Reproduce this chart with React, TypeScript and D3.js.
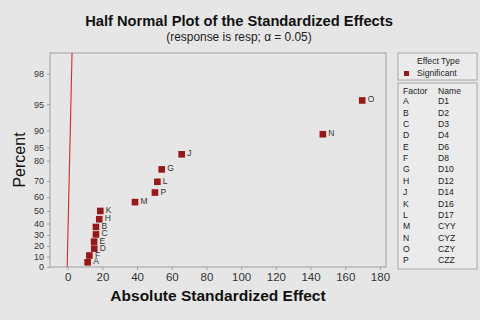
import { useEffect, useRef } from "react";
import * as d3 from "d3";

// effects, one per factor (A..P, no I)
const factors = ["A", "B", "C", "D", "E", "F", "G", "H", "J", "K", "L", "M", "N", "O", "P"];
const names = ["D1", "D2", "D3", "D4", "D6", "D8", "D10", "D12", "D14", "D16", "D17", "CYY", "CYZ", "CZY", "CZZ"];
const effects = [11.5, 16.3, 16.3, 15.3, 15.2, 12.5, 54.2, 18.2, 65.7, 18.8, 51.7, 38.8, 147.1, 169.8, 50.3];
const percents = [4.5, 37.0, 30.5, 17.5, 24.0, 11.0, 76.0, 43.5, 82.5, 50.0, 69.5, 56.5, 89.0, 95.5, 63.0];

const xTicks = [0, 20, 40, 60, 80, 100, 120, 140, 160, 180];
const yTicks = [0, 10, 20, 30, 40, 50, 60, 70, 80, 85, 90, 95, 98];

// reference line (effect, percent) end points
const refEffects = [-0.3, 2.5];
const refPercents = [0, 99];

const FONT = "'Liberation Sans', Arial, sans-serif";
const MARK = "#9b1717";

// inverse normal cdf (Acklam)
function invNorm(p: number) {
  const a = [-39.69683028665376, 220.9460984245205, -275.9285104469687, 138.357751867269, -30.66479806614716, 2.506628277459239];
  const b = [-54.47609879822406, 161.5858368580409, -155.6989798598866, 66.80131188771972, -13.28068155288572];
  const c = [-0.007784894002430293, -0.3223964580411365, -2.400758277161838, -2.549732539343734, 4.374664141464968, 2.938163982698783];
  const d = [0.007784695709041462, 0.3224671290700398, 2.445134137142996, 3.754408661907416];
  const plow = 0.02425;
  if (p < plow) {
    const q = Math.sqrt(-2 * Math.log(p));
    return (((((c[0] * q + c[1]) * q + c[2]) * q + c[3]) * q + c[4]) * q + c[5]) /
      ((((d[0] * q + d[1]) * q + d[2]) * q + d[3]) * q + 1);
  }
  if (p > 1 - plow) {
    const q = Math.sqrt(-2 * Math.log(1 - p));
    return -(((((c[0] * q + c[1]) * q + c[2]) * q + c[3]) * q + c[4]) * q + c[5]) /
      ((((d[0] * q + d[1]) * q + d[2]) * q + d[3]) * q + 1);
  }
  const q = p - 0.5;
  const r = q * q;
  return (((((a[0] * r + a[1]) * r + a[2]) * r + a[3]) * r + a[4]) * r + a[5]) * q /
    (((((b[0] * r + b[1]) * r + b[2]) * r + b[3]) * r + b[4]) * r + 1);
}

// half normal: percent -> z
const halfZ = (pct: number) => invNorm(0.5 + pct / 200);

export default function App() {
  const ref = useRef<SVGSVGElement>(null);

  useEffect(() => {
    const svg = d3.select(ref.current);
    svg.selectAll("*").remove();

    const left = 50, right = 386, top = 53, bottom = 267;

    const x = d3.scaleLinear().domain([-10.2, 183.5]).range([left, right]);
    const y = d3.scaleLinear().domain([0, halfZ(99)]).range([bottom, top]);

    svg.append("rect").attr("width", 480).attr("height", 320).attr("fill", "#e6e6e6");

    // titles
    svg.append("text").attr("x", 239).attr("y", 26).attr("text-anchor", "middle")
      .style("font-family", FONT).style("font-size", "14.7px").style("font-weight", "bold").attr("fill", "#111")
      .text("Half Normal Plot of the Standardized Effects");
    svg.append("text").attr("x", 239).attr("y", 40.5).attr("text-anchor", "middle")
      .style("font-family", FONT).style("font-size", "11.9px").attr("fill", "#222")
      .text("(response is resp; \u03b1 = 0.05)");

    // plot frame
    svg.append("rect").attr("x", left).attr("y", top).attr("width", right - left).attr("height", bottom - top)
      .attr("fill", "#e6e6e6").attr("stroke", "#a0a0a0");

    const gx = svg.append("g").attr("transform", "translate(0," + bottom + ")")
      .call(d3.axisBottom(x).tickValues(xTicks).tickSize(3).tickSizeOuter(0));
    gx.select(".domain").remove();
    gx.selectAll("line").attr("stroke", "#a0a0a0");
    gx.selectAll("text").style("font-family", FONT).style("font-size", "11.5px").attr("fill", "#333").attr("y", 6);

    const gy = svg.append("g").attr("transform", "translate(" + left + ",0)")
      .call(d3.axisLeft(y).tickValues(yTicks.map(halfZ)).tickFormat((d, i) => String(yTicks[i])).tickSize(3).tickSizeOuter(0));
    gy.select(".domain").remove();
    gy.selectAll("line").attr("stroke", "#a0a0a0");
    gy.selectAll("text").style("font-family", FONT).style("font-size", "9px").attr("fill", "#333").attr("x", -6);

    // axis labels
    svg.append("text").attr("x", 218).attr("y", 301).attr("text-anchor", "middle")
      .style("font-family", FONT).style("font-size", "15.5px").style("font-weight", "bold").attr("fill", "#111")
      .text("Absolute Standardized Effect");
    svg.append("text").attr("transform", "translate(25,160) rotate(-90)").attr("text-anchor", "middle")
      .style("font-family", FONT).style("font-size", "16px").attr("fill", "#111")
      .text("Percent");

    // reference line
    const line = d3.line<number>()
      .x((d, i) => x(refEffects[i]))
      .y((d) => y(halfZ(d)));
    svg.append("path").datum(refPercents).attr("d", line).attr("fill", "none")
      .attr("stroke", "#dc2a2a").attr("stroke-width", 1.1);

    // points
    const pts = svg.append("g").selectAll("g").data(factors).enter().append("g");
    pts.append("rect")
      .attr("x", (d, i) => x(effects[i]) - 3.3)
      .attr("y", (d, i) => y(halfZ(percents[i])) - 3.3)
      .attr("width", 6.6).attr("height", 6.6).attr("fill", MARK);
    pts.append("text")
      .attr("x", (d, i) => x(effects[i]) + 5.5)
      .attr("y", (d, i) => y(halfZ(percents[i])) + 2)
      .style("font-family", FONT).style("font-size", "8.5px").attr("fill", "#333")
      .text((d) => d);

    // legend: effect type
    svg.append("rect").attr("x", 398).attr("y", 53).attr("width", 79).attr("height", 27)
      .attr("fill", "#ebebeb").attr("stroke", "#a8a8a8");
    svg.append("text").attr("x", 417).attr("y", 64)
      .style("font-family", FONT).style("font-size", "8.6px").attr("fill", "#222").text("Effect Type");
    svg.append("rect").attr("x", 404).attr("y", 71).attr("width", 5).attr("height", 5).attr("fill", MARK);
    svg.append("text").attr("x", 417).attr("y", 75.5)
      .style("font-family", FONT).style("font-size", "8.6px").attr("fill", "#222").text("Significant");

    // legend: factor table
    svg.append("rect").attr("x", 398).attr("y", 83).attr("width", 79).attr("height", 186)
      .attr("fill", "#ebebeb").attr("stroke", "#a8a8a8");
    const rowY = d3.scaleLinear().domain([0, factors.length - 1]).range([104.3, 263.3]);
    const tbl = svg.append("g").style("font-family", FONT).style("font-size", "8.6px").attr("fill", "#222");
    tbl.append("text").attr("x", 403).attr("y", 94).text("Factor");
    tbl.append("text").attr("x", 438).attr("y", 94).text("Name");
    tbl.selectAll(".f").data(factors).enter().append("text").attr("class", "f")
      .attr("x", 403).attr("y", (d, i) => rowY(i)).text((d) => d);
    tbl.selectAll(".n").data(names).enter().append("text").attr("class", "n")
      .attr("x", 438).attr("y", (d, i) => rowY(i)).text((d) => d);
  }, []);

  return (
    <svg ref={ref} width={480} height={320} style={{ position: "absolute", left: 0, top: 0 }} />
  );
}
